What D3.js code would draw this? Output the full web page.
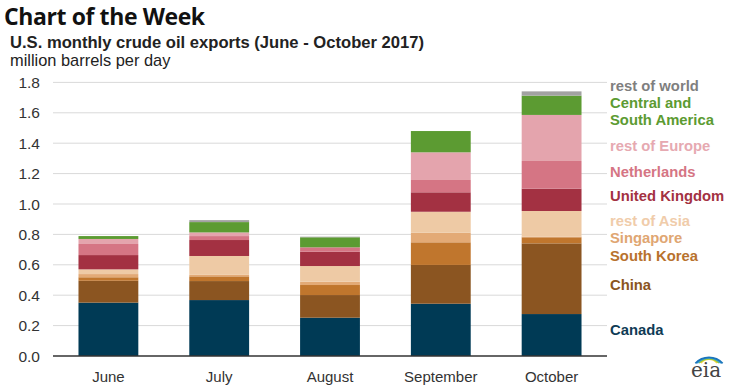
<!DOCTYPE html>
<html lang="en">
<head>
<meta charset="utf-8">
<title>Chart of the Week</title>
<script src="https://d3js.org/d3.v7.min.js"></script>
<style>
  body { margin: 0; background: #fff; }
  svg text { font-family: "Liberation Sans", Arial, sans-serif; }
</style>
</head>
<body>
<div id="chart"></div>
<script>
// months on the x axis
var months = ["June", "July", "August", "September", "October"];

// export destinations, bottom to top of each stack
var series = ["Canada", "China", "South Korea", "Singapore", "rest of Asia",
  "United Kingdom", "Netherlands", "rest of Europe", "Central and South America", "rest of world"];

// million barrels per day, one value per month
var canada        = [0.351, 0.368, 0.252, 0.344, 0.276];
var china         = [0.144, 0.125, 0.149, 0.255, 0.465];
var southKorea    = [0.023, 0.031, 0.066, 0.149, 0.040];
var singapore     = [0.021, 0.010, 0.022, 0.063, 0.005];
var restOfAsia    = [0.031, 0.124, 0.103, 0.138, 0.168];
var unitedKingdom = [0.094, 0.105, 0.094, 0.128, 0.147];
var netherlands   = [0.073, 0.026, 0.029, 0.081, 0.182];
var restOfEurope  = [0.033, 0.024, 0.000, 0.182, 0.303];
var centralSouth  = [0.019, 0.068, 0.066, 0.140, 0.127];
var restOfWorld   = [0.000, 0.013, 0.004, 0.000, 0.028];

var yTicks = [0, 0.2, 0.4, 0.6, 0.8, 1.0, 1.2, 1.4, 1.6, 1.8];

var values = [canada, china, southKorea, singapore, restOfAsia,
  unitedKingdom, netherlands, restOfEurope, centralSouth, restOfWorld];

var colors = ["#003a55", "#8b5521", "#c0762d", "#e3aa76", "#eecaa5",
  "#a33142", "#d57584", "#e4a4ad", "#5c9b32", "#a2a2a2"];
var textColors = ["#0f3b55", "#8b5521", "#b8722d", "#e0a672", "#f0ccaa",
  "#a33142", "#d57584", "#e6a9b1", "#5c9b32", "#7f7f7f"];

var width = 738, height = 389;

var svg = d3.select("#chart").append("svg")
  .attr("width", width)
  .attr("height", height);

// build one row per month for the stack
var rows = months.map(function(m, i) {
  var r = { month: m };
  series.forEach(function(s, j) { r[s] = values[j][i]; });
  return r;
});

var stacked = d3.stack().keys(series)(rows);

var x = d3.scaleBand()
  .domain(months)
  .range([53, 607])
  .paddingInner(0.46)
  .paddingOuter(0.23);

var y = d3.scaleLinear()
  .domain([0, 1.8])
  .range([356, 82.4]);

// titles
svg.append("text")
  .attr("x", 4).attr("y", 25)
  .style("font-family", "'Open Sans', sans-serif")
  .style("font-weight", "bold")
  .style("font-size", "23px")
  .style("letter-spacing", "-0.4px")
  .attr("fill", "#111")
  .text("Chart of the Week");

svg.append("text")
  .attr("x", 10).attr("y", 48)
  .style("font-weight", "bold")
  .style("font-size", "16.6px")
  .attr("fill", "#222")
  .text("U.S. monthly crude oil exports (June - October 2017)");

svg.append("text")
  .attr("x", 10).attr("y", 66)
  .style("font-size", "16.4px")
  .attr("fill", "#222")
  .text("million barrels per day");

// gridlines
svg.append("g")
  .selectAll("line")
  .data(yTicks.slice(1))
  .join("line")
    .attr("x1", 53).attr("x2", 607)
    .attr("y1", function(d) { return y(d); })
    .attr("y2", function(d) { return y(d); })
    .attr("stroke", "#d9d9d9")
    .attr("stroke-width", 1);

// y axis labels
svg.append("g")
  .selectAll("text")
  .data(yTicks)
  .join("text")
    .attr("x", 40)
    .attr("y", function(d) { return y(d) + 5.5; })
    .attr("text-anchor", "end")
    .style("font-size", "15.5px")
    .attr("fill", "#333")
    .text(function(d) { return d.toFixed(1); });

// bars
svg.append("g")
  .selectAll("g")
  .data(stacked)
  .join("g")
    .attr("fill", function(d, i) { return colors[i]; })
  .selectAll("rect")
  .data(function(d) { return d; })
  .join("rect")
    .attr("x", function(d) { return x(d.data.month); })
    .attr("y", function(d) { return y(d[1]); })
    .attr("height", function(d) { return y(d[0]) - y(d[1]); })
    .attr("width", x.bandwidth());

// baseline
svg.append("line")
  .attr("x1", 53).attr("x2", 607)
  .attr("y1", y(0)).attr("y2", y(0))
  .attr("stroke", "#333")
  .attr("stroke-width", 1.5);

// x axis labels
svg.append("g")
  .selectAll("text")
  .data(months)
  .join("text")
    .attr("x", function(d) { return x(d) + x.bandwidth() / 2; })
    .attr("y", 382)
    .attr("text-anchor", "middle")
    .style("font-size", "15px")
    .attr("fill", "#333")
    .text(function(d) { return d; });

// labels on the right, placed by hand like the original
var labelY = [330, 285, 256, 238, 221, 196, 172, 146, 103, 86];
var legend = svg.append("g");
series.forEach(function(s, i) {
  var t = legend.append("text")
    .attr("x", 610)
    .attr("y", labelY[i] + 5)
    .style("font-weight", "bold")
    .style("font-size", "14.8px")
    .attr("fill", textColors[i]);
  if (s === "Central and South America") {
    t.append("tspan").attr("x", 610).text("Central and");
    t.append("tspan").attr("x", 610).attr("dy", 17).text("South America");
  } else {
    t.text(s);
  }
});

// little eia logo
var logo = svg.append("g").attr("transform", "translate(706,368)");
var arcColors = ["#f2d23c", "#8cc63f", "#3aa0d8", "#1b75bb"];
arcColors.forEach(function(c, i) {
  logo.append("path")
    .attr("d", d3.arc()({
      innerRadius: 10 + i * 2.4,
      outerRadius: 11.8 + i * 2.4,
      startAngle: -0.85,
      endAngle: 0.85
    }))
    .attr("transform", "translate(3," + (2 + i * 1.8) + ")")
    .attr("fill", c);
});
logo.append("text")
  .attr("x", 0).attr("y", 9)
  .attr("text-anchor", "middle")
  .style("font-family", "'DejaVu Serif', serif")
  .style("font-size", "20px")
  .attr("fill", "#444")
  .text("eia");
</script>
</body>
</html>
